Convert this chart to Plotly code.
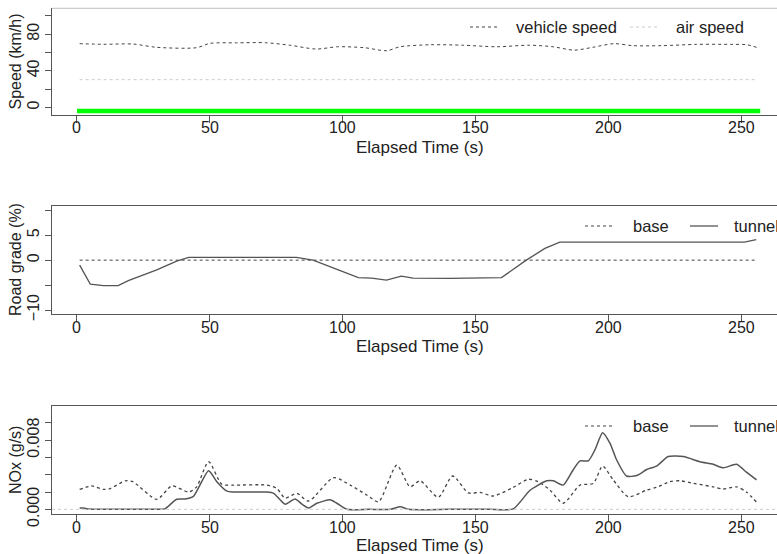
import plotly.graph_objects as go

# ---------------- data ----------------
speed_t = [1, 10, 21, 30, 45, 50, 60, 71, 80, 90, 98, 108, 116.5, 121.5, 133, 145, 158, 170, 179, 187, 194, 202, 209, 220, 233, 246, 252, 256]
vehicle_speed = [69.7, 69.0, 69.3, 65.7, 65.3, 70.0, 70.6, 70.7, 68.0, 63.8, 66.3, 65.3, 62.0, 66.3, 68.5, 68.0, 66.3, 68.0, 66.3, 62.6, 65.7, 69.7, 67.5, 67.5, 68.9, 68.9, 68.5, 65.3]
air_t = [1, 256]
air_speed = [30.3, 30.3]
green_t = [0, 257]
green_val = [-4, -4]

grade_base_t = [1, 256]
grade_base = [0, 0]
grade_tunnel_t = [1, 5, 10, 15.5, 19.3, 30, 37.5, 42, 82.5, 88.8, 100, 105.8, 110.8, 116.4, 122, 126.4, 140, 159.7, 169, 176, 181.6, 251, 255.5]
grade_tunnel = [-1.0, -4.8, -5.1, -5.1, -4.1, -1.96, -0.2, 0.55, 0.55, 0.0, -2.3, -3.5, -3.6, -4.0, -3.2, -3.6, -3.65, -3.5, 0.0, 2.35, 3.6, 3.6, 4.1]

nox_base_t = [1, 5.6, 10, 12.5, 18.2, 21, 30, 35.7, 42, 45, 49.5, 54.5, 59, 71.4, 75.2, 78.3, 82.7, 87.1, 96.5, 102.8, 109, 113.4, 120.3, 125.3, 129, 135.9, 141.3, 147.2, 151.6, 156.6, 164.1, 169.8, 173.5, 177.9, 182.9, 189.2, 194.2, 197.7, 201.7, 207.4, 214.3, 218, 223, 226.8, 231.8, 239.3, 243.1, 248.1, 251.8, 256]
nox_base = [0.0023, 0.0027, 0.0023, 0.0024, 0.0033, 0.0032, 0.00116, 0.0027, 0.002, 0.0026, 0.0055, 0.0029, 0.0028, 0.0028, 0.0024, 0.0013, 0.00185, 0.00096, 0.00365, 0.0028, 0.00165, 0.00088, 0.0051, 0.0026, 0.0033, 0.0014, 0.00385, 0.0019, 0.00196, 0.00154, 0.00254, 0.00347, 0.0032, 0.00223, 0.0007, 0.0028, 0.003, 0.005, 0.0034, 0.00146, 0.00223, 0.00254, 0.0032, 0.0033, 0.003, 0.0026, 0.00235, 0.0026, 0.002, 0.0007]
nox_tunnel_t = [1, 2.5, 4.4, 10, 20, 30, 33, 37.5, 40.6, 43.8, 49.5, 52.6, 56.4, 58.9, 71.4, 74, 78.3, 82, 84.6, 87.1, 90.2, 95.2, 97.7, 101.5, 110, 118, 121.6, 124.7, 140, 155, 164.1, 170.4, 176.7, 179.2, 182.9, 186.6, 189.2, 192.3, 194.8, 197.7, 200.5, 203, 206.7, 210.5, 214.3, 218, 222.4, 228.1, 234.3, 239.3, 243.1, 248.1, 251.8, 255.6]
nox_tunnel = [0.00015, 0.00015, 0.00003, 0, 0, 0, 0.00005, 0.00116, 0.0012, 0.0015, 0.00446, 0.0032, 0.0021, 0.002, 0.002, 0.00185, 0.0006, 0.0012, 0.0006, 0.00015, 0.0007, 0.0011, 0.0007, 0, 0, 0, 0.0003, 0, 0, 0, 0.00005, 0.0022, 0.0033, 0.0033, 0.0028, 0.00455, 0.0056, 0.0056, 0.00686, 0.00886, 0.00763, 0.0057, 0.00385, 0.0039, 0.0046, 0.005, 0.0061, 0.0061, 0.0055, 0.0052, 0.0048, 0.0052, 0.0043, 0.0034]

x_ticks = [0, 50, 100, 150, 200, 250]
x_title = "Elapsed Time (s)"

# ---------------- figure ----------------
W, H = 777, 554
L = 52
PW = W - L
FONT = "Liberation Sans, Arial, sans-serif"
TXT = "#222222"
AX = "#555555"
DARK = "#444444"
LIGHT = "#cccccc"

def px(xp):
    return (xp - L) / PW

def py(yp):
    return 1 - yp / H

fig = go.Figure()

# panel 1
fig.add_trace(go.Scatter(x=speed_t, y=vehicle_speed, mode="lines", line=dict(color=DARK, width=1, dash="3px,3px", shape="spline", smoothing=0.8), xaxis="x", yaxis="y", showlegend=False))
fig.add_trace(go.Scatter(x=air_t, y=air_speed, mode="lines", line=dict(color=LIGHT, width=1, dash="3px,3px"), xaxis="x", yaxis="y", showlegend=False))
fig.add_trace(go.Scatter(x=green_t, y=green_val, mode="lines", line=dict(color="#00ff00", width=4.5), xaxis="x", yaxis="y", showlegend=False))

# panel 2
fig.add_trace(go.Scatter(x=grade_base_t, y=grade_base, mode="lines", line=dict(color=DARK, width=1, dash="3px,3px"), xaxis="x2", yaxis="y2", showlegend=False))
fig.add_trace(go.Scatter(x=grade_tunnel_t, y=grade_tunnel, mode="lines", line=dict(color="#555555", width=1.3), xaxis="x2", yaxis="y2", showlegend=False))

# panel 3
fig.add_trace(go.Scatter(x=nox_base_t, y=nox_base, mode="lines", line=dict(color=DARK, width=1.3, dash="3px,3px", shape="spline", smoothing=0.7), xaxis="x3", yaxis="y3", showlegend=False))
fig.add_trace(go.Scatter(x=nox_tunnel_t, y=nox_tunnel, mode="lines", line=dict(color="#555555", width=1.5, shape="spline", smoothing=0.6), xaxis="x3", yaxis="y3", showlegend=False))

xr = [-9.4, 263.3]
panel_px = [(8.3, 115), (206, 314), (405.5, 514)]
doms = [[py(b), py(t)] for t, b in panel_px]

def xaxis(anchor, mirror):
    return dict(domain=[0, 1], range=xr, anchor=anchor, tickvals=x_ticks, showticklabels=False,
                showline=True, linecolor=AX, linewidth=1.2, mirror=mirror, ticks="outside", ticklen=7,
                tickcolor=AX, tickwidth=1.2, showgrid=False, zeroline=False, fixedrange=True)

def yaxis(anchor, dom, rng, tv, tt):
    return dict(domain=dom, range=rng, anchor=anchor, tickvals=tv, ticktext=tt, tickangle=-90,
                showline=True, linecolor=AX, linewidth=1.2, ticks="outside", ticklen=6,
                tickcolor=AX, tickwidth=1.2, showgrid=False, zeroline=False,
                tickfont=dict(family=FONT, size=16, color=TXT), fixedrange=True)

fig.update_layout(
    width=W, height=H,
    margin=dict(l=L, r=0, t=0, b=0, autoexpand=False),
    paper_bgcolor="white", plot_bgcolor="white",
    showlegend=False,
    xaxis=xaxis("y", False),
    xaxis2=xaxis("y2", True),
    xaxis3=xaxis("y3", True),
    yaxis=yaxis("x", doms[0], [-8.4, 108.4], [0, 20, 40, 60, 80, 100], ["0", "", "40", "", "80", ""]),
    yaxis2=yaxis("x2", doms[1], [-10.8, 10.86], [-10, -5, 0, 5, 10], ["\u221210", "", "0", "5", ""]),
    yaxis3=yaxis("x3", doms[2], [-0.00054, 0.012], [0, 0.002, 0.004, 0.006, 0.008, 0.010], ["0.000", "", "", "", "0.008", ""]),
)

shapes = []
# light top border of panel 1
shapes.append(dict(type="line", xref="paper", yref="paper", x0=0, x1=1, y0=doms[0][1], y1=doms[0][1], line=dict(color=LIGHT, width=1.2)))
# zero reference line in panel 3
shapes.append(dict(type="line", xref="x3 domain", yref="y3", x0=0, x1=1, y0=0, y1=0, line=dict(color=LIGHT, width=1, dash="3px,3px")))

annotations = []

def ann(text, xp, yp, angle=0, anchor="center", size=16, xref="paper"):
    annotations.append(dict(text=text, x=(px(xp) if xref == "paper" else xp), y=py(yp), xref=xref, yref="paper",
                            showarrow=False, textangle=angle, xanchor=anchor, yanchor="middle",
                            font=dict(family=FONT, size=size, color=TXT)))

# x tick labels (R-style placement, close to the axis)
for i, (t, b) in enumerate(panel_px):
    xr_name = "x" if i == 0 else "x%d" % (i + 1)
    for v in x_ticks:
        ann(str(v), v, b + 13, 0, "center", 16, xr_name)

# axis titles
for yp in (147, 346.7, 545.5):
    ann(x_title, 420, yp, size=17)
ann("Speed (km/h)", 15, 61.5, -90, size=16)
ann("Road grade (%)", 15, 260, -90, size=16)
ann("NOx (g/s)", 15, 460, -90, size=16)

def legend_item(x0, x1, yp, color, dash, width, label, tx):
    shapes.append(dict(type="line", xref="paper", yref="paper", x0=px(x0), x1=px(x1), y0=py(yp), y1=py(yp),
                       line=dict(color=color, width=width, dash=dash)))
    ann(label, tx, yp, 0, "left", 16.5)

legend_item(470, 498, 27, DARK, "3px,3px", 1, "vehicle speed", 514)
legend_item(630, 658, 27, LIGHT, "3px,3px", 1, "air speed", 674)
legend_item(585, 615, 226, DARK, "3px,3px", 1.2, "base", 631)
legend_item(690, 718, 226, "#555555", "solid", 1.3, "tunnel", 732)
legend_item(585, 615, 426, DARK, "3px,3px", 1.2, "base", 631)
legend_item(690, 718, 426, "#555555", "solid", 1.3, "tunnel", 732)

fig.update_layout(shapes=shapes, annotations=annotations)

fig.write_html("out.html", config={"displayModeBar": False},
               post_script="document.body.style.margin='0';document.body.style.padding='0';document.body.style.overflow='hidden';")
